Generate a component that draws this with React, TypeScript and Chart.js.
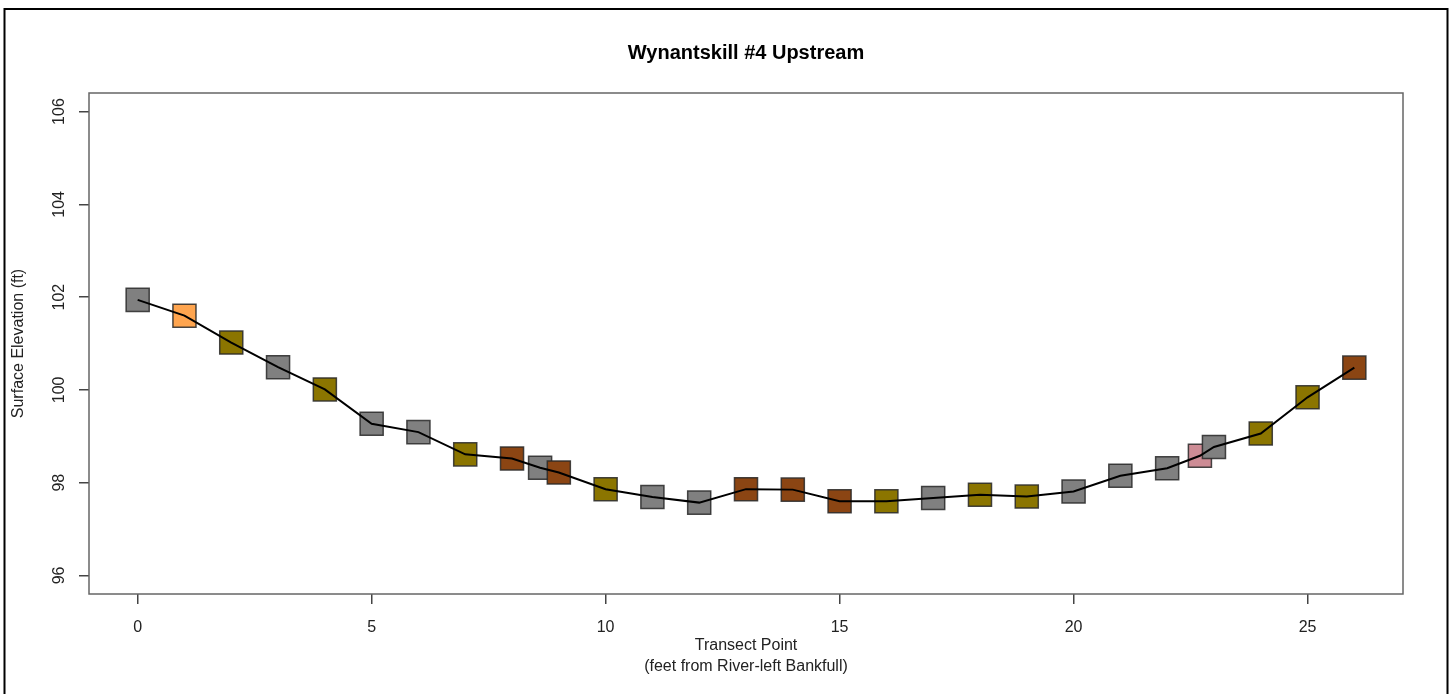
import React, { useEffect, useRef } from "react";
import { Chart, registerables } from "chart.js";

Chart.register(...registerables);

// ---- data ----
const transectX = [0, 1, 2, 3, 4, 5, 6, 7, 8, 8.6, 9, 10, 11, 12, 13, 14, 15, 16, 17, 18, 19, 20, 21, 22, 22.7, 23, 24, 25, 26];
const elevations = [
  101.94, 101.6, 101.02, 100.49, 100.01, 99.27, 99.09, 98.61, 98.52, 98.32, 98.22, 97.86, 97.69, 97.57,
  97.86, 97.85, 97.6, 97.6, 97.67, 97.74, 97.7, 97.81, 98.15, 98.31, 98.58, 98.77, 99.06, 99.84, 100.48,
];
const substrate = [
  "gray", "orange", "olive", "gray", "olive", "gray", "gray", "olive", "brown", "gray", "brown", "olive", "gray", "gray",
  "brown", "brown", "brown", "olive", "gray", "olive", "olive", "gray", "gray", "gray", "pink", "gray", "olive", "olive", "brown",
];
const xTicks = [0, 5, 10, 15, 20, 25];
const yTicks = [96, 98, 100, 102, 104, 106];
const titleText = "Wynantskill #4 Upstream";
const xTitleLines = ["Transect Point", "(feet from River-left Bankfull)"];
const yTitleText = "Surface Elevation (ft)";
const substrateColors: Record<string, string> = {
  gray: "#808080",
  orange: "#FFA54F",
  olive: "#8B7500",
  brown: "#8B4513",
  pink: "#CD8C95",
};

const FONT = "'Liberation Sans', Arial, sans-serif";

const decorPlugin = {
  id: "decor",
  afterDraw(chart: any) {
    const ctx = chart.ctx as CanvasRenderingContext2D;
    const a = chart.chartArea;
    ctx.save();
    // plot box
    ctx.strokeStyle = "#666";
    ctx.lineWidth = 1.5;
    ctx.strokeRect(a.left, a.top, a.right - a.left, a.bottom - a.top);
    // outer frame
    ctx.strokeStyle = "#000";
    ctx.lineWidth = 2;
    ctx.strokeRect(4.5, 9, 1443, 700);
    // title
    const cx = (a.left + a.right) / 2;
    ctx.fillStyle = "#000";
    ctx.textAlign = "center";
    ctx.textBaseline = "middle";
    ctx.font = `bold 20px ${FONT}`;
    ctx.fillText(titleText, cx, 53);
    // x title
    ctx.fillStyle = "#222";
    ctx.font = `16px ${FONT}`;
    ctx.fillText(xTitleLines[0], cx, a.bottom + 52);
    ctx.fillText(xTitleLines[1], cx, a.bottom + 73);
    // y tick labels (rotated)
    const ys = chart.scales.y;
    yTicks.forEach((v) => {
      const py = ys.getPixelForValue(v);
      ctx.save();
      ctx.translate(60, py);
      ctx.rotate(-Math.PI / 2);
      ctx.fillText(String(v), 0, 0);
      ctx.restore();
    });
    // y title
    ctx.save();
    ctx.translate(19, (a.top + a.bottom) / 2);
    ctx.rotate(-Math.PI / 2);
    ctx.fillText(yTitleText, 0, 0);
    ctx.restore();
    ctx.restore();
  },
};

export default function App() {
  const canvasRef = useRef<HTMLCanvasElement | null>(null);

  useEffect(() => {
    if (!canvasRef.current) return;
    const pts = transectX.map((x, i) => ({ x, y: elevations[i] }));
    const chart = new Chart(canvasRef.current, {
      type: "scatter",
      data: {
        datasets: [
          {
            type: "line",
            label: "profile",
            data: pts,
            borderColor: "#000",
            borderWidth: 2,
            pointRadius: 0,
            fill: false,
            tension: 0,
            order: 0,
          } as any,
          {
            type: "scatter",
            label: "substrate",
            data: pts,
            pointStyle: "rect",
            pointRadius: 16.3,
            pointHoverRadius: 16.3,
            backgroundColor: substrate.map((s) => substrateColors[s]),
            borderColor: "rgba(40,40,40,0.85)",
            borderWidth: 1.5,
            order: 1,
          },
        ],
      },
      options: {
        responsive: false,
        animation: false,
        layout: { padding: { left: 39, right: 52, top: 93, bottom: 50 } },
        plugins: {
          legend: { display: false },
          title: { display: false },
          tooltip: { enabled: false },
        },
        scales: {
          x: {
            type: "linear",
            min: -1.04,
            max: 27.04,
            afterBuildTicks: (scale: any) => {
              scale.ticks = xTicks.map((v) => ({ value: v }));
            },
            afterFit: (scale: any) => {
              scale.height = 50;
            },
            grid: {
              display: true,
              drawOnChartArea: false,
              drawTicks: true,
              tickLength: 10,
              color: "#444",
              lineWidth: 1.5,
            },
            border: { display: false },
            ticks: {
              color: "#222",
              font: { family: FONT, size: 16 },
              padding: 14,
              maxRotation: 0,
              minRotation: 0,
              autoSkip: false,
            },
          },
          y: {
            type: "linear",
            min: 95.6,
            max: 106.4,
            afterBuildTicks: (scale: any) => {
              scale.ticks = yTicks.map((v) => ({ value: v }));
            },
            afterFit: (scale: any) => {
              scale.width = 50;
            },
            grid: {
              display: true,
              drawOnChartArea: false,
              drawTicks: true,
              tickLength: 10,
              color: "#444",
              lineWidth: 1.5,
            },
            border: { display: false },
            ticks: { display: false },
          },
        },
      },
      plugins: [decorPlugin],
    });
    return () => chart.destroy();
  }, []);

  return (
    <div style={{ position: "fixed", left: 0, top: 0, width: 1455, height: 694, background: "#fff" }}>
      <canvas ref={canvasRef} width={1455} height={694} style={{ display: "block" }} />
    </div>
  );
}
